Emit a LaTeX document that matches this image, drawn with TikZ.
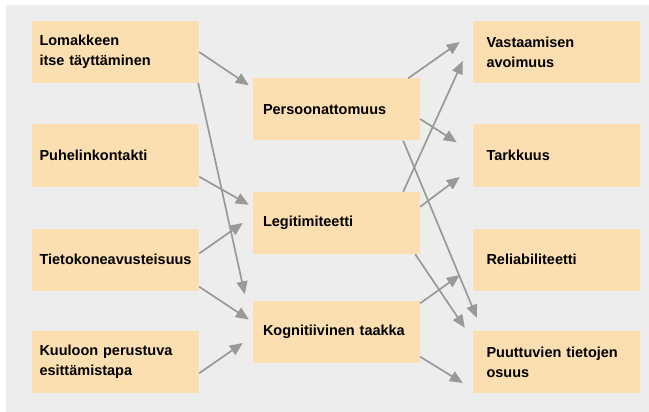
\documentclass[tikz,border=0pt]{standalone}
\usepackage{fontspec}
\setmainfont{Liberation Sans}
\usetikzlibrary{arrows.meta,calc}
\definecolor{bggray}{HTML}{EDEDED}
\definecolor{boxfill}{HTML}{FCDFB0}
\definecolor{arrgray}{HTML}{999999}
\tikzset{
  box/.style={fill=boxfill, minimum width=167pt, minimum height=62pt,
    align=left, font=\bfseries\fontsize{14.5}{20}\selectfont, inner ysep=0pt, anchor=center},
  lbox/.style={box, text width=152pt, inner xsep=7.5pt},
  mbox/.style={box, text width=147pt, inner xsep=10pt},
  rbox/.style={box, text width=140pt, inner xsep=13.5pt},
  conn/.style={draw=arrgray, line width=1.7pt, -{Triangle[length=13pt,width=11pt]}},
}
\begin{document}
\begin{tikzpicture}[x=1pt,y=-1pt]
\useasboundingbox (0,0) rectangle (649,412);
\fill[white] (0,0) rectangle (649,412);
\fill[bggray] (6,5) rectangle (649,412);
% left column
\node[lbox] (lom) at (115.5,52) {Lomakkeen\\itse täyttäminen};
\node[lbox] (puh) at (115.5,155.5) {Puhelinkontakti};
\node[lbox] (tie) at (115.5,259.5) {Tietokoneavusteisuus};
\node[lbox] (kuu) at (115.5,362) {Kuuloon perustuva\\esittämistapa};
% middle column
\node[mbox] (per) at (336.5,109.5) {Persoonattomuus};
\node[mbox] (leg) at (336.5,223) {Legitimiteetti};
\node[mbox] (kog) at (336.5,331.5) {Kognitiivinen taakka};
% right column
\node[rbox] (vas) at (556.5,52) {Vastaamisen\\avoimuus};
\node[rbox] (tar) at (556.5,155.5) {Tarkkuus};
\node[rbox] (rel) at (556.5,259.5) {Reliabiliteetti};
\node[rbox] (puu) at (556.5,362) {Puuttuvien tietojen\\osuus};
% left to middle
\draw[conn] (lom.east) -- ($(per.north west)+(-4,7)$);
\draw[conn] ($(lom.south east)+(-1,0)$) -- ($(kog.north west)+(-8,-6)$);
\draw[conn] ($(puh.south east)+(0,-10)$) -- ($(leg.north west)+(-4,13)$);
\draw[conn] ($(tie.east)+(0,-6)$) -- ($(leg.west)+(-10,0)$);
\draw[conn] ($(tie.south east)+(0,-4)$) -- ($(kog.west)+(-4,-12)$);
\draw[conn] ($(kuu.south east)+(0,-20)$) -- ($(kog.west)+(-10,11.5)$);
% middle to right
\draw[conn] ($(per.north east)+(-12,0)$) -- ($(vas.west)+(-13,-10)$);
\draw[conn] ($(leg.north east)+(-17,0)$) -- ($(vas.west)+(-10,9)$);
\draw[conn] ($(per.east)+(0,9.5)$) -- ($(tar.north west)+(-16,18)$);
\draw[conn] ($(per.south east)+(-17,0)$) -- ($(puu.north west)+(4,-13)$);
\draw[conn] ($(leg.north east)+(0,15)$) -- ($(tar.west)+(-13,21.5)$);
\draw[conn] ($(leg.south east)+(-5,0)$) -- ($(puu.north west)+(-8,-3)$);
\draw[conn] ($(kog.north east)+(0,3)$) -- ($(rel.west)+(-13,15.5)$);
\draw[conn] ($(kog.south east)+(0,-6)$) -- ($(puu.west)+(-10,21)$);
\end{tikzpicture}
\end{document}
